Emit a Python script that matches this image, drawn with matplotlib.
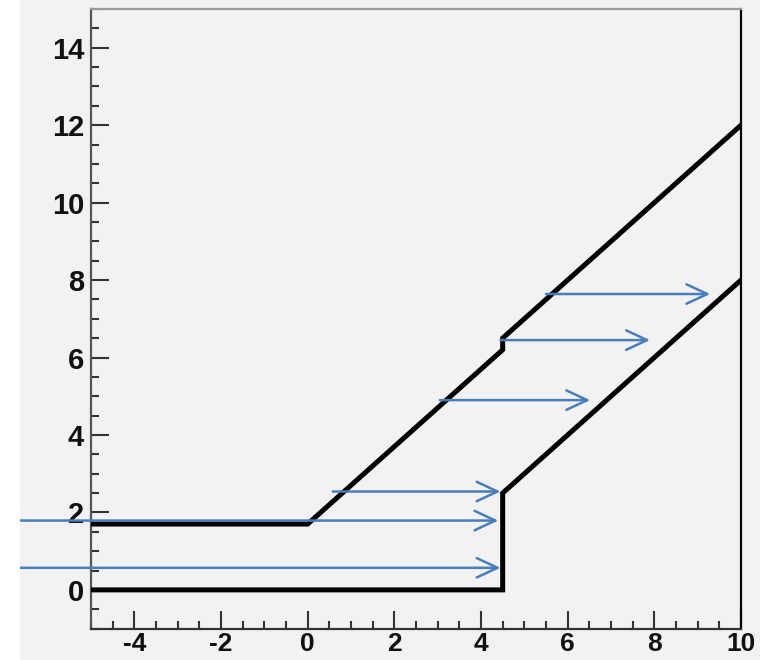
import matplotlib
matplotlib.use("Agg")
import matplotlib.pyplot as plt
from matplotlib.patches import Rectangle
from matplotlib.ticker import MultipleLocator

# lower boundary: flat at 0, vertical step at x=4.5, then slope 1
lower_x = [-5, 4.5, 4.5, 10]
lower_y = [0, 0, 2.5, 8]

# upper boundary: flat at 1.7, slope 1, small jump at x=4.5
upper_x = [-5, 0, 4.5, 4.5, 10]
upper_y = [1.7, 1.7, 6.2, 6.5, 12]

# horizontal shift arrows (start x, end x, y)
arrow_x0 = [-6.68, -6.68, 0.58, 3.05, 4.45, 5.5]
arrow_x1 = [4.45, 4.4, 4.45, 6.52, 7.9, 9.29]
arrow_y = [0.57, 1.79, 2.54, 4.9, 6.45, 7.64]

BG = "#f2f2f2"
BLUE = "#4a7ebb"

plt.rcParams["axes.unicode_minus"] = False

fig = plt.figure(figsize=(7.6, 6.6), dpi=100, facecolor=BG)
fig.patches.append(Rectangle((0, 0), 20 / 760, 1, transform=fig.transFigure,
                             facecolor="white", edgecolor="none", zorder=0))
ax = fig.add_axes([91 / 760, (660 - 628.6) / 660, 650 / 760, (628.6 - 9) / 660])
ax.set_facecolor(BG)
ax.set_xlim(-5, 10)
ax.set_ylim(-1, 15)

ax.plot(lower_x, lower_y, color="black", lw=3.6, solid_joinstyle="miter", zorder=3)
ax.plot(upper_x, upper_y, color="black", lw=3.6, solid_joinstyle="miter", zorder=3)

for x0, x1, y in zip(arrow_x0, arrow_x1, arrow_y):
    ax.annotate("", xy=(x1, y), xytext=(x0, y), annotation_clip=False,
                arrowprops=dict(arrowstyle="->,head_length=1.5,head_width=0.7",
                                mutation_scale=10, color=BLUE, lw=1.8,
                                shrinkA=0, shrinkB=0), zorder=4)

ax.xaxis.set_major_locator(MultipleLocator(2))
ax.xaxis.set_minor_locator(MultipleLocator(0.5))
ax.yaxis.set_major_locator(MultipleLocator(2))
ax.yaxis.set_minor_locator(MultipleLocator(0.5))
ax.tick_params(which="both", direction="in", top=False, right=False,
               color="#333333", width=1.5)
ax.tick_params(which="major", length=13)
ax.tick_params(which="minor", length=5.5)
ax.tick_params(axis="y", which="major", pad=5)
ax.tick_params(axis="x", which="major", pad=2.5)
for lab in ax.get_yticklabels():
    lab.set_fontsize(21)
for lab in ax.get_xticklabels():
    lab.set_fontsize(19)
for lab in ax.get_xticklabels() + ax.get_yticklabels():
    lab.set_fontfamily("Liberation Sans")
    lab.set_fontweight("bold")
    lab.set_color("#111111")

ax.spines["left"].set_color("#555555")
ax.spines["bottom"].set_color("#333333")
ax.spines["top"].set_color("#999999")
ax.spines["right"].set_color("black")
for sp in ax.spines.values():
    sp.set_linewidth(1.6)

fig.savefig("out.png", dpi=100, facecolor=BG)
